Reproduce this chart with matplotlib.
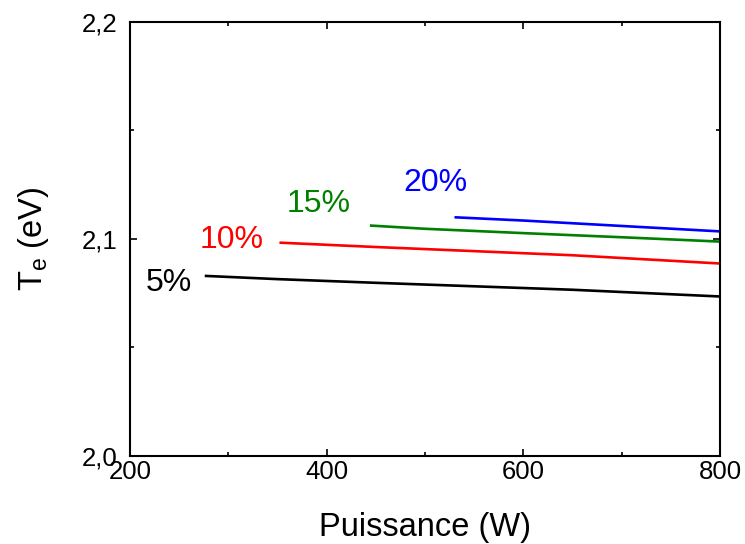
import matplotlib
matplotlib.use("Agg")
import matplotlib.pyplot as plt
from matplotlib.ticker import FixedLocator, FuncFormatter

plt.rcParams['font.family'] = ['Liberation Sans', 'DejaVu Sans']
plt.rcParams['mathtext.fontset'] = 'custom'
plt.rcParams['mathtext.rm'] = 'Liberation Sans'

# Data
p5 = [276, 350, 450, 550, 650, 800]
t5 = [2.0830, 2.0815, 2.0798, 2.0782, 2.0766, 2.0735]
p10 = [352, 450, 550, 650, 800]
t10 = [2.0983, 2.0963, 2.0944, 2.0925, 2.0887]
p15 = [444, 500, 600, 700, 800]
t15 = [2.1062, 2.1047, 2.1027, 2.1008, 2.0988]
p20 = [530, 600, 700, 800]
t20 = [2.1100, 2.1085, 2.1060, 2.1035]

series = [(p5, t5, 'black', '5%', 240, 2.0797),
          (p10, t10, 'red', '10%', 303, 2.0995),
          (p15, t15, 'green', '15%', 392, 2.1160),
          (p20, t20, 'blue', '20%', 511, 2.1258)]

fig = plt.figure(figsize=(7.45, 5.44), dpi=100)
ax = fig.add_axes([0.1745, 0.1618, 0.7919, 0.7978])

for x, y, c, lab, lx, ly in series:
    ax.plot(x, y, color=c, lw=1.9, solid_capstyle='butt')
    ax.text(lx, ly, lab, color=c, fontsize=23, ha='center', va='center')

ax.set_xlim(200, 800)
ax.set_ylim(2.0, 2.2)
ax.xaxis.set_major_locator(FixedLocator([200, 400, 600, 800]))
ax.xaxis.set_minor_locator(FixedLocator([300, 500, 700]))
ax.yaxis.set_major_locator(FixedLocator([2.0, 2.1, 2.2]))
ax.yaxis.set_minor_locator(FixedLocator([2.05, 2.15]))
ax.yaxis.set_major_formatter(FuncFormatter(lambda v, p: f"{v:.1f}".replace('.', ',')))

ax.tick_params(which='both', direction='in', top=True, right=True, labelsize=18.5, width=1.2)
ax.tick_params(which='major', length=5)
ax.tick_params(axis='x', which='major', pad=3)
ax.tick_params(axis='y', which='major', pad=9)
ax.tick_params(which='minor', length=3)
for s in ax.spines.values():
    s.set_linewidth(1.5)

ax.set_xlabel('Puissance (W)', fontsize=23.5, labelpad=20)
ax.set_ylabel(r'T$_\mathregular{e}$ (eV)', fontsize=23.5, labelpad=22)

fig.savefig('out.png', dpi=100)
